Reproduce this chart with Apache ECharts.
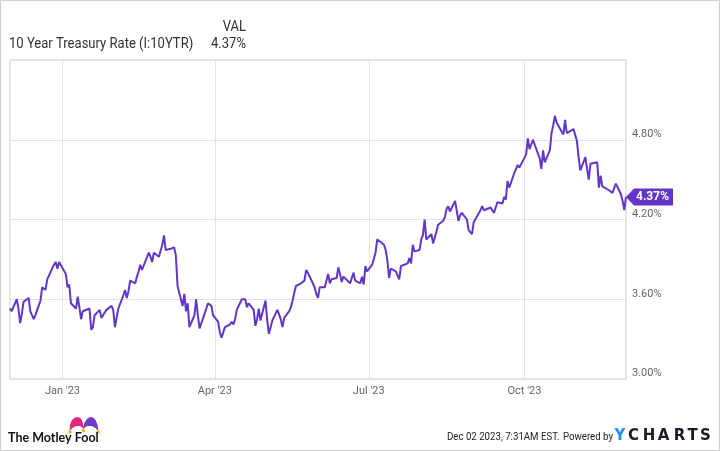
<!DOCTYPE html>
<html><head><meta charset="utf-8">
<script src="https://cdn.jsdelivr.net/npm/echarts@6/dist/echarts.min.js"></script>
<style>html,body{margin:0;padding:0;background:#fff}#c{width:720px;height:451px}</style>
</head><body><div id="c"></div>
<script>
const dates = [
'2022-12-01','2022-12-02','2022-12-05','2022-12-06','2022-12-07','2022-12-08','2022-12-09','2022-12-12','2022-12-13','2022-12-14','2022-12-15','2022-12-16','2022-12-19','2022-12-20','2022-12-21','2022-12-22','2022-12-23','2022-12-27','2022-12-28','2022-12-29','2022-12-30',
'2023-01-03','2023-01-04','2023-01-05','2023-01-06','2023-01-09','2023-01-10','2023-01-11','2023-01-12','2023-01-13','2023-01-17','2023-01-18','2023-01-19','2023-01-20','2023-01-23','2023-01-24','2023-01-25','2023-01-26','2023-01-27','2023-01-30','2023-01-31',
'2023-02-01','2023-02-02','2023-02-03','2023-02-06','2023-02-07','2023-02-08','2023-02-09','2023-02-10','2023-02-13','2023-02-14','2023-02-15','2023-02-16','2023-02-17','2023-02-21','2023-02-22','2023-02-23','2023-02-24','2023-02-27','2023-02-28',
'2023-03-01','2023-03-02','2023-03-03','2023-03-06','2023-03-07','2023-03-08','2023-03-09','2023-03-10','2023-03-13','2023-03-14','2023-03-15','2023-03-16','2023-03-17','2023-03-20','2023-03-21','2023-03-22','2023-03-23','2023-03-24','2023-03-27','2023-03-28','2023-03-29','2023-03-30','2023-03-31',
'2023-04-03','2023-04-04','2023-04-05','2023-04-06','2023-04-07','2023-04-10','2023-04-11','2023-04-12','2023-04-13','2023-04-14','2023-04-17','2023-04-18','2023-04-19','2023-04-20','2023-04-21','2023-04-24','2023-04-25','2023-04-26','2023-04-27','2023-04-28',
'2023-05-01','2023-05-02','2023-05-03','2023-05-04','2023-05-05','2023-05-08','2023-05-09','2023-05-10','2023-05-11','2023-05-12','2023-05-15','2023-05-16','2023-05-17','2023-05-18','2023-05-19','2023-05-22','2023-05-23','2023-05-24','2023-05-25','2023-05-26','2023-05-30','2023-05-31',
'2023-06-01','2023-06-02','2023-06-05','2023-06-06','2023-06-07','2023-06-08','2023-06-09','2023-06-12','2023-06-13','2023-06-14','2023-06-15','2023-06-16','2023-06-20','2023-06-21','2023-06-22','2023-06-23','2023-06-26','2023-06-27','2023-06-28','2023-06-29','2023-06-30',
'2023-07-03','2023-07-05','2023-07-06','2023-07-07','2023-07-10','2023-07-11','2023-07-12','2023-07-13','2023-07-14','2023-07-17','2023-07-18','2023-07-19','2023-07-20','2023-07-21','2023-07-24','2023-07-25','2023-07-26','2023-07-27','2023-07-28','2023-07-31',
'2023-08-01','2023-08-02','2023-08-03','2023-08-04','2023-08-07','2023-08-08','2023-08-09','2023-08-10','2023-08-11','2023-08-14','2023-08-15','2023-08-16','2023-08-17','2023-08-18','2023-08-21','2023-08-22','2023-08-23','2023-08-24','2023-08-25','2023-08-28','2023-08-29','2023-08-30','2023-08-31',
'2023-09-01','2023-09-05','2023-09-06','2023-09-07','2023-09-08','2023-09-11','2023-09-12','2023-09-13','2023-09-14','2023-09-15','2023-09-18','2023-09-19','2023-09-20','2023-09-21','2023-09-22','2023-09-25','2023-09-26','2023-09-27','2023-09-28','2023-09-29',
'2023-10-02','2023-10-03','2023-10-04','2023-10-05','2023-10-06','2023-10-10','2023-10-11','2023-10-12','2023-10-13','2023-10-16','2023-10-17','2023-10-18','2023-10-19','2023-10-20','2023-10-23','2023-10-24','2023-10-25','2023-10-26','2023-10-27','2023-10-30','2023-10-31',
'2023-11-01','2023-11-02','2023-11-03','2023-11-06','2023-11-07','2023-11-08','2023-11-09','2023-11-13','2023-11-14','2023-11-15','2023-11-16','2023-11-17','2023-11-20','2023-11-21','2023-11-22','2023-11-24','2023-11-27','2023-11-28','2023-11-29','2023-11-30'
];
const values = [
3.53,3.51,3.60,3.53,3.42,3.49,3.58,3.61,3.51,3.48,3.45,3.48,3.59,3.69,3.68,3.67,3.75,3.86,3.88,3.83,3.88,
3.79,3.69,3.71,3.57,3.53,3.62,3.54,3.45,3.51,3.53,3.37,3.39,3.48,3.52,3.46,3.46,3.50,3.52,3.55,3.52,
3.39,3.40,3.53,3.63,3.67,3.61,3.66,3.74,3.72,3.77,3.81,3.86,3.82,3.95,3.92,3.88,3.95,3.92,3.92,
4.01,4.08,3.97,3.98,3.97,3.99,3.93,3.70,3.55,3.64,3.51,3.57,3.39,3.48,3.60,3.48,3.38,3.38,3.53,3.57,3.57,3.55,3.48,
3.43,3.35,3.31,3.30,3.39,3.41,3.43,3.41,3.45,3.52,3.60,3.59,3.60,3.54,3.57,3.52,3.40,3.45,3.53,3.44,
3.59,3.44,3.34,3.39,3.44,3.52,3.53,3.45,3.39,3.46,3.51,3.54,3.59,3.65,3.70,3.72,3.71,3.74,3.82,3.80,3.69,3.64,
3.61,3.69,3.69,3.70,3.79,3.72,3.75,3.76,3.84,3.79,3.73,3.77,3.72,3.73,3.80,3.74,3.72,3.77,3.71,3.85,3.81,
3.86,3.95,4.05,4.06,4.01,3.97,3.89,3.76,3.83,3.81,3.80,3.75,3.85,3.84,3.87,3.91,3.87,4.01,3.96,3.97,
4.05,4.08,4.20,4.05,4.09,4.02,4.01,4.11,4.16,4.19,4.22,4.28,4.30,4.26,4.34,4.34,4.19,4.23,4.25,4.20,4.12,4.12,4.09,
4.18,4.27,4.30,4.27,4.26,4.29,4.27,4.25,4.29,4.33,4.32,4.37,4.35,4.49,4.44,4.55,4.56,4.61,4.59,4.59,
4.69,4.81,4.73,4.72,4.80,4.66,4.58,4.72,4.63,4.72,4.85,4.91,4.98,4.93,4.86,4.84,4.95,4.85,4.84,4.88,4.88,
4.79,4.67,4.57,4.67,4.58,4.50,4.62,4.63,4.44,4.53,4.45,4.44,4.42,4.41,4.40,4.47,4.39,4.34,4.27,4.37
];
const xMin = '2022-12-01';
const xMax = '2023-11-30';
const tickDates = ['2023-01-01','2023-04-01','2023-07-01','2023-10-01'];
const tickLabels = ["Jan '23","Apr '23","Jul '23","Oct '23"];
const yMin = 3.0, yMax = 5.4, yStep = 0.6;
const seriesName = '10 Year Treasury Rate (I:10YTR)';
const footerStamp = 'Dec 02 2023, 7:31AM EST.';
const ychartsRest = ['C','H','A','R','T','S'];
const ychartsX = [633.5, 649, 663.5, 679.5, 692.5, 705.5];

const PURPLE = '#6236c8';
const toT = d => +echarts.time.parse(d);
const tickTimes = tickDates.map(toT);
const lastIdx = values.length - 1;
const lastLabel = values[lastIdx].toFixed(2) + '%';

const chart = echarts.init(document.getElementById('c'), null, {renderer: 'canvas'});
const txt = (x, y, text, o) => Object.assign({
  type: 'text', x: x, y: y, silent: true,
  style: Object.assign({text: text, fill: '#333', font: '15px Roboto', textVerticalAlign: 'middle'}, o && o.style || {})
}, o && o.el || {});

const graphic = [
  {type: 'rect', shape: {x: 0.5, y: 0.5, width: 719, height: 450}, style: {fill: 'none', stroke: '#cfcfcf', lineWidth: 1}, silent: true, z: 100},
  txt(246, 27, 'VAL', {style: {textAlign: 'right'}, el: {scaleX: 0.87}}),
  txt(9, 44, seriesName, {el: {scaleX: 0.87}}),
  txt(246, 44, lastLabel, {style: {textAlign: 'right'}, el: {scaleX: 0.87}}),
  {type: 'polygon', shape: {points: [[69.5,431],[70,424.5],[72,420],[75,417.5],[78,417],[80.5,418],[82.5,421.5],[84,429],[80,426],[76,426],[72.5,428]]}, style: {fill: '#e6267e'}, silent: true},
  {type: 'polygon', shape: {points: [[83,429],[84.5,422.5],[87,419],[90,417],[93,417.5],[95.5,420],[97.5,424.5],[98.5,431],[95.5,428],[91.5,426],[87,426]]}, style: {fill: '#6c3ccc'}, silent: true},
  {type: 'circle', shape: {cx: 70, cy: 432, r: 1.7}, style: {fill: '#f2b51c'}, silent: true},
  {type: 'circle', shape: {cx: 83.5, cy: 430.5, r: 1.7}, style: {fill: '#f2b51c'}, silent: true},
  {type: 'circle', shape: {cx: 98, cy: 432, r: 1.7}, style: {fill: '#f2b51c'}, silent: true},
  txt(8, 438, 'The Motley Fool', {style: {font: 'bold 12.5px Lato', fill: '#111'}}),
  txt(447, 437.5, footerStamp, {style: {font: '11.5px Roboto', fill: '#222'}, el: {scaleX: 0.84}}),
  txt(563, 437.5, 'Powered by', {style: {font: '11.5px Roboto', fill: '#222'}, el: {scaleX: 0.84}}),
  txt(620, 436.5, 'Y', {style: {font: 'bold 15px "DejaVu Sans"', fill: '#1e8ff0', textAlign: 'center'}})
].concat(ychartsRest.map((ch, i) => txt(ychartsX[i], 436.5, ch, {style: {font: 'bold 15px "DejaVu Sans"', fill: '#1b1b2a', textAlign: 'center'}})));

chart.setOption({
  animation: false,
  backgroundColor: '#fff',
  textStyle: {fontFamily: 'Roboto'},
  grid: {left: 10, right: 94, top: 60, bottom: 72, show: true, borderColor: '#cccccc', borderWidth: 1},
  xAxis: {
    type: 'value', min: toT(xMin), max: toT(xMax), scale: true,
    axisLine: {show: false},
    axisTick: {show: false, customValues: tickTimes},
    axisLabel: {customValues: tickTimes, color: '#666', fontSize: 11, margin: 7,
      formatter: v => { const i = tickTimes.indexOf(+v); return i >= 0 ? tickLabels[i] : ''; }},
    splitLine: {show: true, lineStyle: {color: '#e3e3e3', width: 1}}
  },
  yAxis: {
    type: 'value', position: 'right', min: yMin, max: yMax, interval: yStep,
    axisLine: {show: false}, axisTick: {show: false},
    axisLabel: {color: '#666', fontSize: 11, margin: 6, verticalAlign: 'bottom',
      formatter: v => Math.abs(v - yMax) < 1e-6 ? '' : v.toFixed(2) + '%'},
    splitLine: {show: true, lineStyle: {color: '#e3e3e3', width: 1}}
  },
  series: [{
    name: seriesName, type: 'line', showSymbol: false, symbol: 'none',
    data: dates.map((d, i) => [toT(d), values[i]]),
    lineStyle: {width: 2, color: PURPLE}, itemStyle: {color: PURPLE},
    z: 5,
    markPoint: {
      symbol: 'path://M0,8.5L8,0L47,0L47,17L8,17Z', symbolSize: [47, 17], symbolOffset: [23.5, 0],
      symbolKeepAspect: false, silent: true,
      itemStyle: {color: PURPLE},
      label: {show: true, position: 'inside', offset: [3, 0], color: '#fff', fontWeight: 'bold', fontSize: 12, fontFamily: 'Roboto', formatter: lastLabel},
      data: [{coord: [toT(dates[lastIdx]), values[lastIdx]]}]
    }
  }],
  graphic: graphic
});
</script></body></html>
